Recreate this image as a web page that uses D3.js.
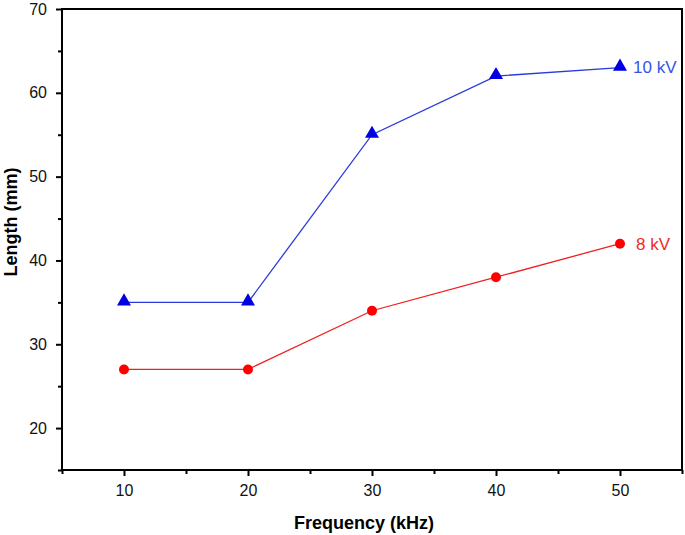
<!DOCTYPE html>
<html><head><meta charset="utf-8">
<script src="https://cdn.jsdelivr.net/npm/d3@7"></script>
<style>body{margin:0;background:#fff}svg{display:block;font-family:"Liberation Sans",Arial,sans-serif}</style>
</head><body><svg id="c" width="685" height="535"></svg>
<script>
const frequency = [10, 20, 30, 40, 50];
const length10kV = [35, 35, 55, 62, 63];
const length8kV = [27, 27, 34, 38, 42];
const xTicks = [10, 20, 30, 40, 50];
const yTicks = [20, 30, 40, 50, 60, 70];
const seriesNames = ["10 kV", "8 kV"];

const svg = d3.select("#c");
const L = 62, R = 682, T = 9, B = 470;
const x = d3.scaleLinear().domain([5, 55]).range([L, R]);
const y = d3.scaleLinear().domain([15, 70]).range([B, T]);

// frame
svg.append("rect").attr("x", L).attr("y", T).attr("width", R - L).attr("height", B - T)
  .attr("fill", "none").attr("stroke", "#000").attr("stroke-width", 2);

// x axis
const xa = svg.append("g").attr("transform", `translate(0,${B})`)
  .call(d3.axisBottom(x).tickValues(xTicks).tickSize(6).tickSizeOuter(0).tickPadding(9).tickFormat(d3.format("d")));
const xm = svg.append("g").attr("transform", `translate(0,${B})`)
  .call(d3.axisBottom(x).tickValues([5, 15, 25, 35, 45, 55]).tickSize(4).tickSizeOuter(0).tickFormat(""));
// y axis
const ya = svg.append("g").attr("transform", `translate(${L},0)`)
  .call(d3.axisLeft(y).tickValues(yTicks).tickSize(6).tickSizeOuter(0).tickPadding(9).tickFormat(d3.format("d")));
const ym = svg.append("g").attr("transform", `translate(${L},0)`)
  .call(d3.axisLeft(y).tickValues([15, 25, 35, 45, 55, 65]).tickSize(4).tickSizeOuter(0).tickFormat(""));
[xa, xm, ya, ym].forEach(g => {
  g.select(".domain").remove();
  g.selectAll("line").attr("stroke", "#000").attr("stroke-width", 2);
  g.selectAll("text").attr("font-size", 16).attr("fill", "#111").attr("font-family", "Liberation Sans, Arial, sans-serif");
});

// axis titles
svg.append("text").attr("x", 364).attr("y", 529).attr("text-anchor", "middle")
  .attr("font-weight", "bold").attr("font-size", 18).text("Frequency (kHz)");
svg.append("text").attr("transform", `translate(17,222) rotate(-90)`).attr("text-anchor", "middle")
  .attr("font-weight", "bold").attr("font-size", 18).text("Length (mm)");

const line = d3.line().x((d, i) => x(frequency[i])).y(d => y(d));

// 10 kV
svg.append("path").datum(length10kV).attr("d", line).attr("fill", "none").attr("stroke", "#2a3bdc").attr("stroke-width", 1.3);
svg.selectAll(".tri").data(length10kV).enter().append("path")
  .attr("d", d3.symbol().type(d3.symbolTriangle).size(85))
  .attr("transform", (d, i) => `translate(${x(frequency[i])},${y(d) - 1})`).attr("fill", "#0000e0");
// 8 kV
svg.append("path").datum(length8kV).attr("d", line).attr("fill", "none").attr("stroke", "#f02020").attr("stroke-width", 1.3);
svg.selectAll(".dot").data(length8kV).enter().append("circle")
  .attr("cx", (d, i) => x(frequency[i])).attr("cy", d => y(d)).attr("r", 5).attr("fill", "#ff0000");

// labels
svg.append("text").attr("x", 633).attr("y", 73).attr("font-size", 17).attr("fill", "#3355e8").text(seriesNames[0]);
svg.append("text").attr("x", 636).attr("y", 250).attr("font-size", 17).attr("fill", "#ee2a2a").text(seriesNames[1]);
</script></body></html>
